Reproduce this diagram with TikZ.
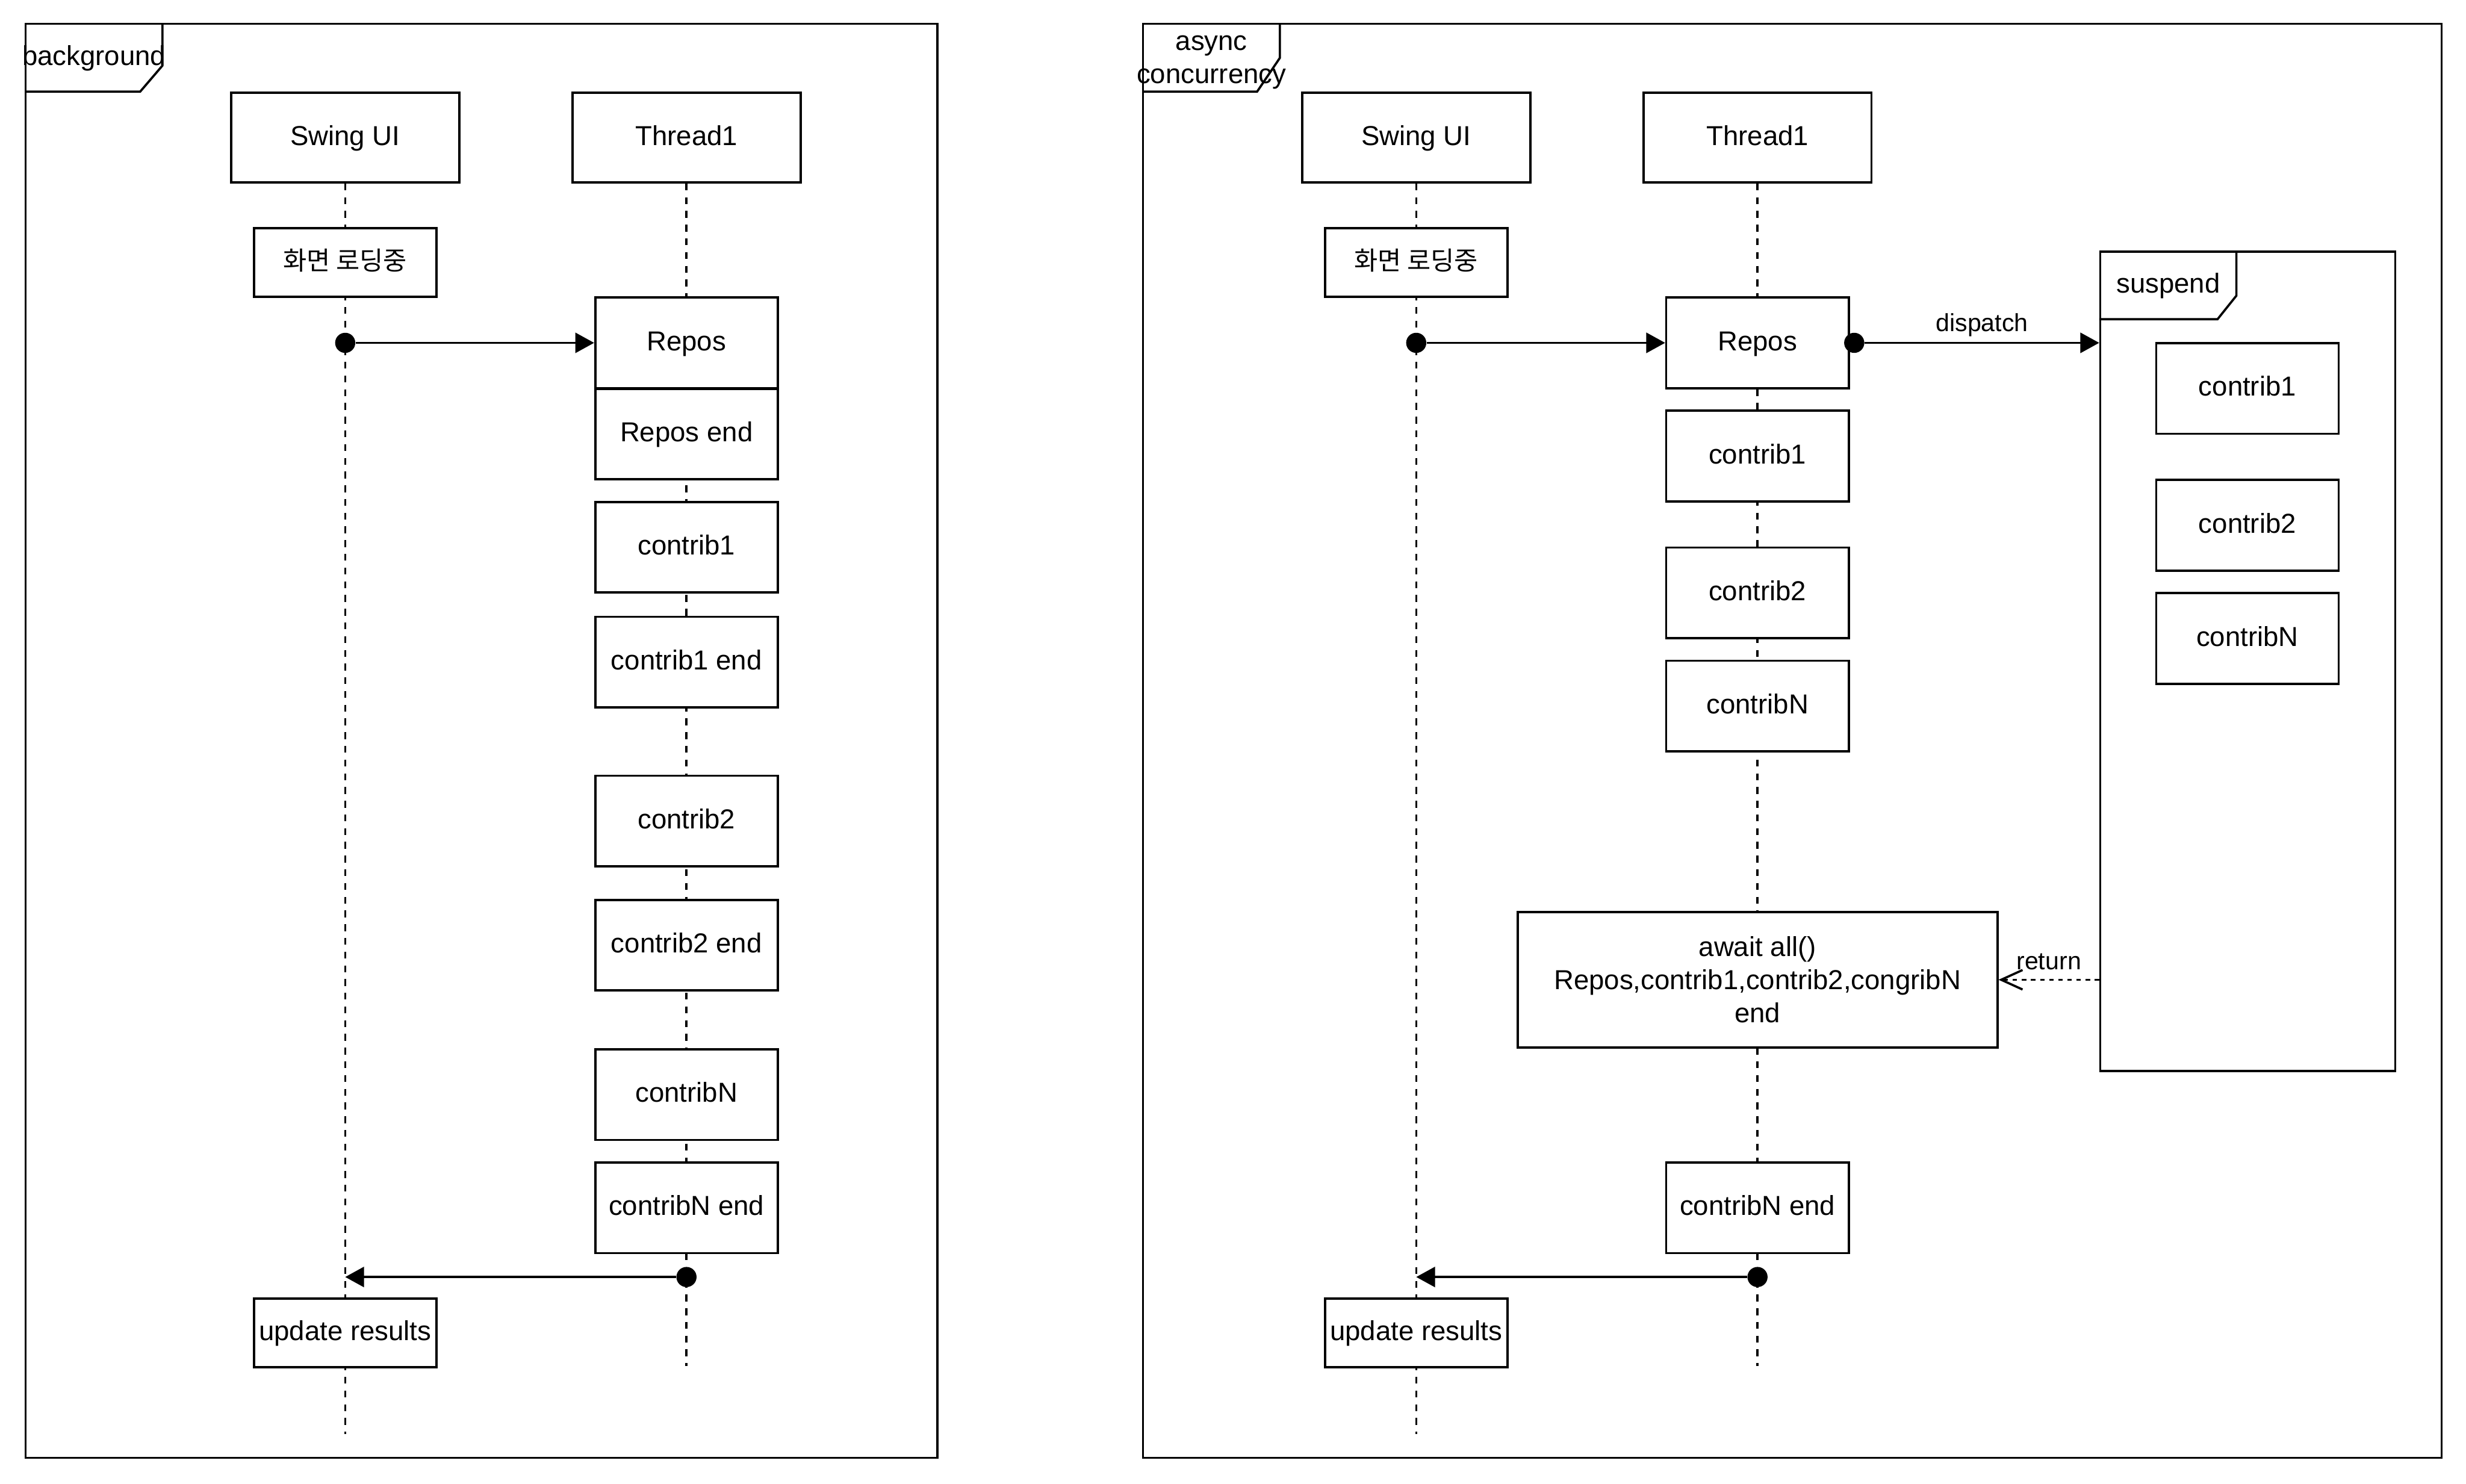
\documentclass[tikz,border=0pt]{standalone}
\usepackage{fontspec}
\setmainfont{Liberation Sans}
\newfontfamily\krfont[Scale=0.935]{Noto Sans CJK KR}
\usetikzlibrary{positioning,arrows.meta}
\newcommand{\mainfnt}{\fontsize{12.4}{14.9}\selectfont}
\newcommand{\smallfnt}{\fontsize{11.2}{13.4}\selectfont}

\begin{document}
\begin{tikzpicture}[x=0.025cm, y=-0.025cm, font=\mainfnt]
        \tikzset{
            txt/.style={text height=0.905em, text depth=0.212em},
            head/.style={draw, fill=white, line width=1pt, minimum width=3.625cm, minimum height=1.425cm, inner sep=0pt, txt},
            act/.style={draw, fill=white, line width=1pt, minimum width=2.9cm, minimum height=1.44cm, inner sep=0pt, align=center, txt},
            note/.style={act, minimum height=1.09cm},
            lifeline/.style={line width=1pt, dash pattern=on 0.109cm off 0.109cm},
            framed/.style={line width=1pt},
            dot/.style={circle, fill=black, inner sep=0pt, minimum size=0.32cm},
            msg/.style={line width=1pt, -{Triangle[length=0.3cm, width=0.32cm]}},
            ret/.style={line width=1pt, dash pattern=on 0.07cm off 0.075cm, -{Straight Barb[length=0.34cm, width=0.31cm]}},
            lbl/.style={font=\smallfnt}
        }
        \useasboundingbox (0,0) rectangle (1568,943.4);

        % background frame
        \draw[framed] (16.3,15.1) rectangle (596,927);
        \draw[framed] (16.3,58.3) -- (89.1,58.3) -- (103.3,41.7) -- (103.3,15.1);
        \node[txt, inner sep=0pt] (bgTag) at (59.8,36.7) {background};

        \node[head] (uiA) at (219.5,87.5) {Swing UI};
        \node[head] (thA) at (436.5,87.5) {Thread1};
        \coordinate (uiAend) at (219.5,912);
        \coordinate (thAend) at (436.5,868.5);
        \draw[lifeline] (uiA) -- (uiAend);
        \draw[lifeline] (thA) -- (thAend);

        \node[note] (loadA) at (219.5,167) {\krfont 화면 로딩중};
        \node[act] (reposA) at (436.5,218) {Repos};
        \node[act] (reposEndA) at (436.5,276) {Repos end};
        \node[act] (c1A) at (436.5,348) {contrib1};
        \node[act] (c1EndA) at (436.5,421) {contrib1 end};
        \node[act] (c2A) at (436.5,522) {contrib2};
        \node[act] (c2EndA) at (436.5,601) {contrib2 end};
        \node[act] (cNA) at (436.5,696) {contribN};
        \node[act] (cNEndA) at (436.5,768) {contribN end};
        \node[note] (updA) at (219.5,847.5) {update results};

        \node[dot] (goA) at (219.5,218) {};
        \draw[msg] (goA) -- (reposA);
        \node[dot] (backA) at (436.5,812) {};
        \coordinate (uiAhit) at (219.5,812);
        \draw[msg] (backA) -- (uiAhit);

        % async concurrency frame
        \draw[framed] (726.8,15.1) rectangle (1552.5,927);
        \draw[framed] (726.8,58.3) -- (799.3,58.3) -- (813.8,36.8) -- (813.8,15.1);
        \node[align=center] (acTag) at (770.3,39.5) {async\\concurrency};

        \node[head] (uiB) at (900.5,87.5) {Swing UI};
        \node[head] (thB) at (1117.5,87.5) {Thread1};
        \coordinate (uiBend) at (900.5,912);
        \coordinate (thBend) at (1117.5,868.5);
        \draw[lifeline] (uiB) -- (uiBend);
        \draw[lifeline] (thB) -- (thBend);

        \node[note] (loadB) at (900.5,167) {\krfont 화면 로딩중};
        \node[act] (reposB) at (1117.5,218) {Repos};
        \node[act] (c1B) at (1117.5,290) {contrib1};
        \node[act] (c2B) at (1117.5,377) {contrib2};
        \node[act] (cNB) at (1117.5,449) {contribN};
        \node[draw, fill=white, line width=1pt, minimum width=7.625cm, minimum height=2.15cm, inner sep=0pt, align=center] (awaitB) at (1117.5,623) {await all()\\Repos,contrib1,contrib2,congribN\\end};
        \node[act] (cNEndB) at (1117.5,768) {contribN end};
        \node[note] (updB) at (900.5,847.5) {update results};

        % suspend frame
        \node[draw, line width=1pt, minimum width=4.6875cm, minimum height=13.025cm, inner sep=0pt] (susp) at (1429.25,420.5) {};
        \draw[framed] (susp.north west |- 0,203) -- (1410,203) -- (1422,188) -- (1422,160);
        \node[txt, inner sep=0pt] (suspTag) at (1378.7,181.5) {suspend};
        \node[act] (c1S) at (1429,247) {contrib1};
        \node[act] (c2S) at (1429,334) {contrib2};
        \node[act] (cNS) at (1429,406) {contribN};

        \node[dot] (goB) at (900.5,218) {};
        \draw[msg] (goB) -- (reposB);
        \node[dot] (dispB) at (1179,218) {};
        \draw[msg] (dispB) -- node[lbl, midway, above=-0.035cm] {dispatch} (susp.west |- dispB);
        \draw[ret] (susp.west |- awaitB.east) -- node[lbl, midway, above=0.02cm] {return} (awaitB.east);
        \node[dot] (backB) at (1117.5,812) {};
        \coordinate (uiBhit) at (900.5,812);
        \draw[msg] (backB) -- (uiBhit);
\end{tikzpicture}
\end{document}
